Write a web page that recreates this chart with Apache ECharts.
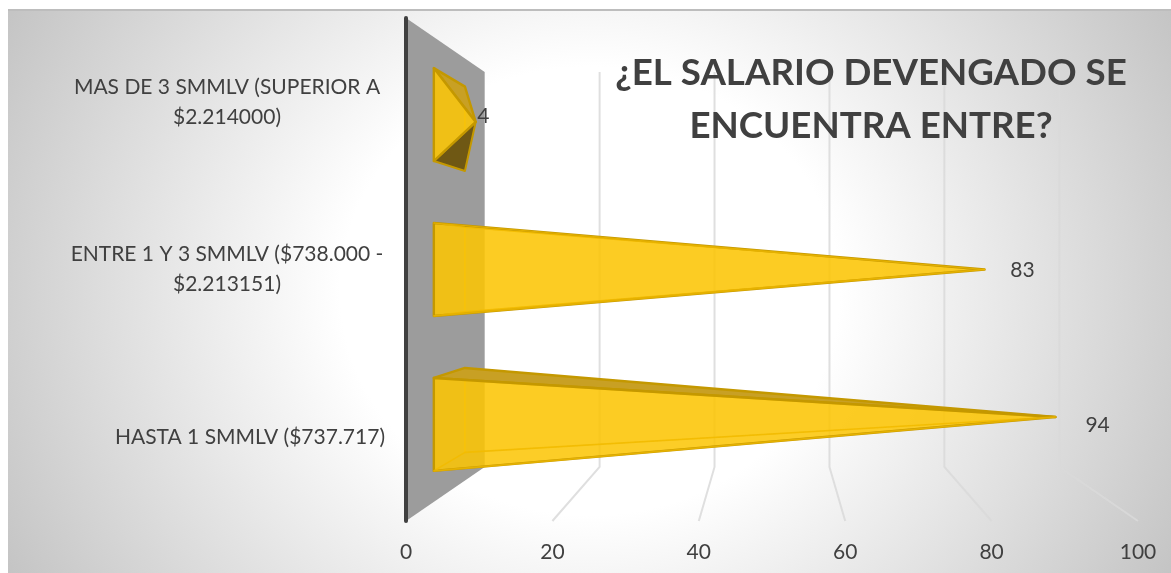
<!DOCTYPE html>
<html>
<head>
<meta charset="utf-8">
<title>Salario devengado</title>
<script src="https://cdn.jsdelivr.net/npm/echarts@6/dist/echarts.min.js"></script>
<style>
  html, body { margin: 0; padding: 0; background: #fff; }
  #plate {
    position: absolute; left: 8px; top: 9px; width: 1163px; height: 562px;
    border-top: 2px solid #bdbdbd;
    background: radial-gradient(ellipse 780px 700px at 582px 280px, #fff 32%, #c4c4c4 85%);
  }
  #chart { position: absolute; left: 0; top: 0; width: 1171px; height: 573px; }
</style>
</head>
<body>
<div id="plate"></div>
<div id="chart"></div>
<script>
const titleText = '¿EL SALARIO DEVENGADO SE\nENCUENTRA ENTRE?'
// de abajo hacia arriba, como en el eje
const categories = [
  'HASTA 1 SMMLV ($737.717)',
  'ENTRE 1 Y 3 SMMLV ($738.000 -\n$2.213151)',
  'MAS DE 3 SMMLV (SUPERIOR A\n$2.214000)'
]
const barValues = [94, 83, 4]
const tickValues = [0, 20, 40, 60, 80, 100]

// perspectiva: escala 1 en el plano frontal, BACK en la pared del fondo
const BACK = 0.785
const BAR_FRONT = 0.924
const BAR_BACK = 0.839
const BAR_MID = 0.88

function project(cs, x, y, s) {
  const cx = cs.x + cs.width / 2
  const cy = cs.y + cs.height / 2
  return [cx + (x - cx) * s, cy + (y - cy) * s]
}

function renderWall(params, api) {
  const cs = params.coordSys
  const t = api.value(0)
  const x = api.coord([t, 0])[0]
  const top = cs.y
  const bottom = cs.y + cs.height
  if (t === 0) {
    const pts = [[x, top], project(cs, x, top, BACK), project(cs, x, bottom, BACK), [x, bottom]]
    return { type: 'polygon', shape: { points: pts }, style: { fill: '#9c9c9c' } }
  }
  const pts = [project(cs, x, top, BACK), project(cs, x, bottom, BACK), [x, bottom]]
  return {
    type: 'polyline',
    shape: { points: pts },
    style: { fill: null, stroke: 'rgba(217,217,217,0.85)', lineWidth: 2 }
  }
}

function above(p, a, b) {
  return p[1] < a[1] + (b[1] - a[1]) * (p[0] - a[0]) / (b[0] - a[0])
}

function renderBar(params, api) {
  const cs = params.coordSys
  const v = api.value(0)
  const c = api.coord([v, api.value(1)])
  const base = api.coord([0, api.value(1)])[0]
  const half = api.size([0, 1])[1] * 0.3
  const ft = project(cs, base, c[1] - half, BAR_FRONT)
  const fb = project(cs, base, c[1] + half, BAR_FRONT)
  const bt = project(cs, base, c[1] - half, BAR_BACK)
  const bb = project(cs, base, c[1] + half, BAR_BACK)
  const tip = project(cs, c[0], c[1], BAR_MID)
  const edge = '#c49800'
  const inner = 'rgba(240,186,0,0.75)'
  const face = (pts, fill, stroke, lw) => ({
    type: 'polygon',
    shape: { points: pts },
    style: { fill: fill, stroke: stroke, lineWidth: lw, lineJoin: 'round' }
  })
  const topOut = above(bt, ft, tip)
  const bottomOut = !above(bb, fb, tip)
  const labelY = project(cs, c[0], c[1], 0.92)[1]
  const children = [
    face([ft, bt, bb, fb], 'rgba(252,197,4,0.12)', inner, 1),
    face([bt, bb, tip], 'rgba(252,197,4,0.12)', inner, 1)
  ]
  if (bottomOut) children.push(face([fb, bb, tip], '#6f5814', edge, 2))
  if (topOut) children.push(face([ft, bt, tip], '#c8a024', edge, 2.4))
  children.push(face([ft, fb, tip], 'rgba(252,197,4,0.86)', edge, 2.4))
  // aristas ocultas, se ven a traves de la cara frontal
  if (!bottomOut) children.push(face([fb, bb, tip], 'rgba(0,0,0,0)', inner, 1.6))
  if (!topOut) children.push(face([ft, bt, tip], 'rgba(0,0,0,0)', inner, 1.2))
  children.push({
    type: 'text',
    style: {
      text: String(v),
      x: tip[0] + 6 + v * 0.385,
      y: labelY + 1,
      align: 'center',
      verticalAlign: 'middle',
      fill: '#404040',
      font: '21px Lato'
    }
  })
  return { type: 'group', children: children }
}

const myChart = echarts.init(document.getElementById('chart'), null, { renderer: 'canvas' })

myChart.setOption({
  backgroundColor: 'transparent',
  animation: false,
  textStyle: { fontFamily: 'Lato' },
  title: {
    text: titleText,
    left: 866,
    top: 42,
    textAlign: 'center',
    textStyle: { color: '#404040', fontSize: 36.7, fontWeight: 'bold', lineHeight: 53, fontFamily: 'Lato', align: 'center' }
  },
  grid: { left: 406, width: 732, top: 18, height: 503, containLabel: false },
  xAxis: {
    type: 'value',
    min: 0,
    max: 100,
    interval: 20,
    splitLine: { show: false },
    axisLine: { show: false },
    axisTick: { show: false },
    axisLabel: { color: '#404040', fontSize: 21, margin: 21, fontFamily: 'Lato', customValues: tickValues }
  },
  yAxis: {
    type: 'category',
    data: categories,
    z: 5,
    axisLine: { show: true, lineStyle: { color: '#404040', width: 4, cap: 'round' } },
    axisTick: { show: false },
    axisLabel: {
      color: '#404040',
      fontSize: 21,
      margin: 21,
      lineHeight: 30,
      fontFamily: 'Lato',
      formatter: function (name) {
        const lines = name.split('\n')
        if (lines.length === 1) return name
        return lines.map(l => '{c|' + l + '}').join('\n')
      },
      rich: { c: { width: 316, align: 'center', color: '#404040', fontSize: 21, lineHeight: 30, fontFamily: 'Lato' } }
    }
  },
  series: [
    {
      type: 'custom',
      name: 'paredes',
      silent: true,
      clip: false,
      z: 1,
      data: tickValues.map(t => [t]),
      renderItem: renderWall
    },
    {
      type: 'custom',
      name: 'salario',
      silent: true,
      clip: false,
      z: 3,
      data: barValues.map((v, i) => [v, i]),
      encode: { x: 0, y: 1 },
      renderItem: renderBar
    }
  ]
})
</script>
</body>
</html>
